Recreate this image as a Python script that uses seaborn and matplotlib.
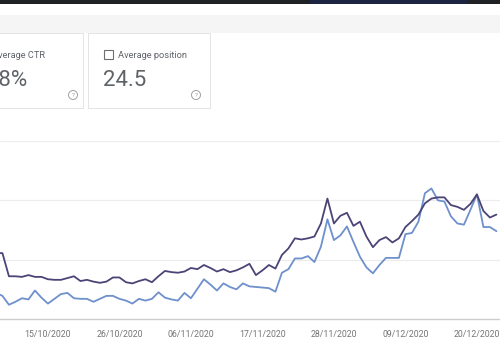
import pandas as pd
import matplotlib
matplotlib.use("Agg")
import matplotlib.pyplot as plt
import matplotlib.dates as mdates
from matplotlib.patches import Rectangle, Circle
import seaborn as sns

# Daily series (unitless index, gridlines at 100 / 200 / 300)
dates = pd.date_range("2020-10-07", "2020-12-23", freq="D")
impressions = [111, 111, 72, 72, 71, 74, 71, 71, 67, 66, 66, 69, 72, 64, 66, 63,
               61, 63, 70, 70, 62, 60, 64, 67, 62, 72, 81, 79, 78, 80, 86, 84,
               91, 86, 80, 84, 79, 82, 87, 93, 74, 82, 91, 85, 108, 119, 136, 134,
               136, 139, 161, 203, 161, 174, 179, 157, 164, 139, 121, 133, 138, 129,
               136, 155, 165, 176, 195, 203, 205, 205, 192, 189, 184, 194, 210, 182,
               171, 176]
clicks = [44, 39, 24, 29, 35, 33, 48, 36, 26, 34, 42, 44, 35, 34, 34, 29,
          34, 39, 39, 34, 31, 26, 34, 31, 34, 45, 36, 33, 31, 44, 35, 51,
          67, 58, 48, 60, 54, 50, 60, 55, 54, 53, 52, 46, 78, 84, 102, 102,
          106, 96, 122, 168, 133, 141, 156, 130, 105, 87, 77, 91, 103, 103,
          103, 143, 145, 164, 212, 220, 200, 198, 173, 161, 159, 184, 210, 155,
          155, 148]

tick_labels = ["15/10/2020", "26/10/2020", "06/11/2020", "17/11/2020",
               "28/11/2020", "09/12/2020", "20/12/2020"]

df = pd.DataFrame({"date": list(dates) * 2,
                   "value": impressions + clicks,
                   "metric": ["Impressions"] * len(dates) + ["Clicks"] * len(dates)})

sns.set_style("white")
plt.rcParams['font.family'] = ['Roboto', 'DejaVu Sans']

fig = plt.figure(figsize=(5, 3.5), dpi=100)

# --- page background: header bar, toolbar band, metric cards ---
bg = fig.add_axes([0, 0, 1, 1])
bg.set_xlim(0, 500)
bg.set_ylim(350, 0)
bg.axis("off")
bg.add_patch(Rectangle((0, 0), 500, 4, color="#202124", lw=0))
bg.add_patch(Rectangle((310, 0), 157, 4, color="#1c2340", lw=0))
bg.add_patch(Rectangle((0, 15), 500, 18, color="#f5f5f5", lw=0))

for x0, w in [(-10, 93), (88, 122)]:
    bg.add_patch(Rectangle((x0 + 1, 34), w, 75, color="#ededed", lw=0))
    bg.add_patch(Rectangle((x0, 33), w, 75, facecolor="white", edgecolor="#e4e4e4", lw=0.7))

grey = "#5f6368"
bg.text(45, 55, "Average CTR", ha="right", va="center", fontsize=6.7, color=grey)
bg.text(27, 81, "2.8%", ha="right", va="center", fontsize=16, color=grey)
bg.add_patch(Rectangle((104, 50), 9, 9, fill=False, edgecolor="#6f6f6f", lw=0.8))
bg.text(118, 55, "Average position", ha="left", va="center", fontsize=6.7, color=grey)
bg.text(103, 81, "24.5", ha="left", va="center", fontsize=16, color=grey)

for cx in [73, 196]:
    bg.add_patch(Circle((cx, 95), 4.5, fill=False, edgecolor="#a0a0a0", lw=0.7))
    bg.text(cx, 95.3, "?", ha="center", va="center", fontsize=4.5, color="#a0a0a0")

# --- performance chart ---
ax = fig.add_axes([0, 31 / 350, 1, 178 / 350])
ax.patch.set_alpha(0)
for y in [100, 200, 300]:
    ax.axhline(y, color="#ececec", lw=0.8, zorder=0)

sns.lineplot(data=df, x="date", y="value", hue="metric",
             hue_order=["Clicks", "Impressions"],
             palette={"Impressions": "#4b4477", "Clicks": "#6e90cc"},
             linewidth=1.3, legend=False, ax=ax)

start = pd.Timestamp("2020-10-08")
ax.set_xlim(start - pd.Timedelta(hours=9), start + pd.Timedelta(days=76.55))
ax.set_ylim(0, 300)

tick_dates = pd.to_datetime(tick_labels, format="%d/%m/%Y")
ax.set_xticks(tick_dates)
ax.set_xticklabels(tick_labels)
ax.set_yticks([])
ax.set_xlabel("")
ax.set_ylabel("")
ax.tick_params(axis="x", length=0, pad=8, labelsize=6.3, labelcolor="#757575")
for side in ["top", "left", "right"]:
    ax.spines[side].set_visible(False)
ax.spines["bottom"].set_color("#cccccc")
ax.spines["bottom"].set_linewidth(1)

fig.savefig("out.png", dpi=100)
